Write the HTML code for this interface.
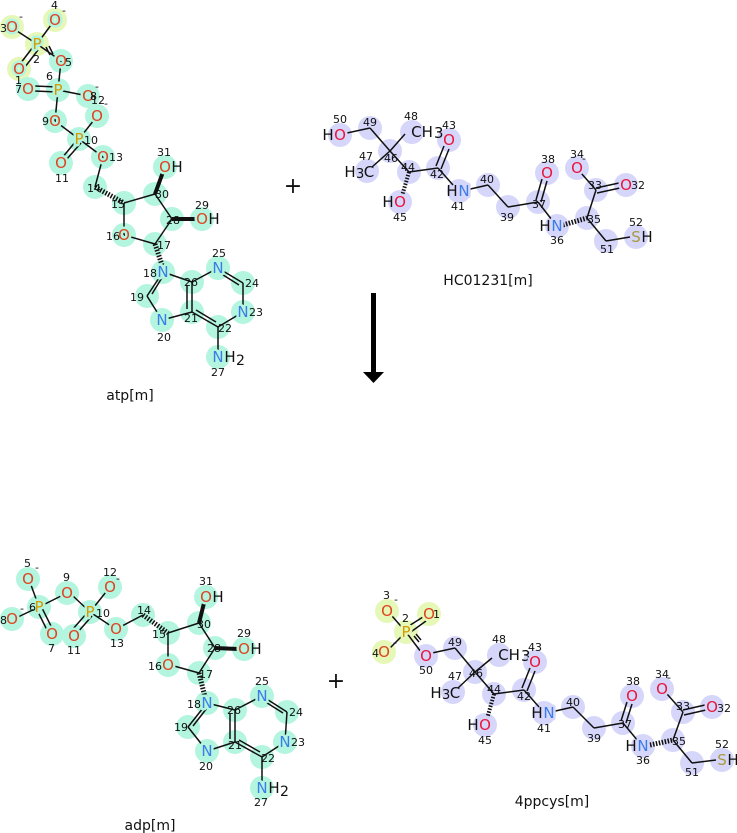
<!DOCTYPE html>
<html><head><meta charset="utf-8">
<style>
html,body{margin:0;padding:0;background:#fff;}
svg{display:block;}
text{font-family:"DejaVu Sans","Liberation Sans",sans-serif;}
.n{font-size:11px;fill:#111;}
.a{font-size:15px;text-anchor:middle;dominant-baseline:central;}
.O1{fill:#dd4422}.O2{fill:#e8163c}.N{fill:#3a7de8}.P{fill:#d49a00}.S{fill:#a89a40}.C{fill:#111}
line{stroke:#111;stroke-width:1.5}
.hc circle{fill:#d6d6fa}
.ac circle{fill:#b3f5df}
.yc circle{fill:#e6f8b8}
g.ta text{stroke:#b3f5df;stroke-width:5;paint-order:stroke;stroke-linejoin:round}
g.th text{stroke:#d6d6fa;stroke-width:5;paint-order:stroke;stroke-linejoin:round}
g.ta text.C, g.th text.C{stroke:none}
</style></head><body>
<svg width="737" height="833" viewBox="0 0 737 833" xmlns="http://www.w3.org/2000/svg">
<!-- ===================== ATP ===================== -->
<g class="yc">
<circle cx="12" cy="27" r="12"/><circle cx="55" cy="20" r="12"/><circle cx="37" cy="44" r="12"/><circle cx="19" cy="69" r="12"/>
</g>
<g class="ac">
<circle cx="61" cy="61" r="12"/><circle cx="58" cy="90" r="12"/><circle cx="28" cy="89" r="12"/><circle cx="88" cy="96" r="12"/>
<circle cx="97" cy="116" r="12"/><circle cx="55" cy="121" r="12"/><circle cx="79" cy="139" r="12"/><circle cx="103" cy="157" r="12"/>
<circle cx="61" cy="163" r="12"/><circle cx="95" cy="187" r="12"/><circle cx="124" cy="203" r="12"/><circle cx="155" cy="194" r="12"/>
<circle cx="165" cy="167" r="12"/><circle cx="172" cy="219" r="12"/><circle cx="202" cy="219" r="12"/><circle cx="124" cy="235" r="12"/>
<circle cx="155" cy="244" r="12"/><circle cx="163" cy="272" r="12"/><circle cx="192" cy="282" r="12"/><circle cx="218" cy="268" r="12"/>
<circle cx="243" cy="283" r="12"/><circle cx="243" cy="312" r="12"/><circle cx="218" cy="327" r="12"/><circle cx="192" cy="312" r="12"/>
<circle cx="162" cy="320" r="12"/><circle cx="147" cy="296" r="12"/><circle cx="218" cy="357" r="12"/>
</g>
<g>
<line x1="37" y1="44" x2="17" y2="31"/><line x1="37" y1="44" x2="51" y2="25"/>
<line x1="33" y1="47" x2="20" y2="64"/><line x1="38" y1="50" x2="25" y2="67"/>
<line x1="37" y1="44" x2="57" y2="58"/><line x1="46" y1="47" x2="50" y2="55"/><line x1="49" y1="46" x2="53" y2="54"/>
<line x1="61" y1="61" x2="58" y2="90"/>
<line x1="58" y1="87" x2="34" y2="86"/><line x1="58" y1="92" x2="34" y2="91"/>
<line x1="58" y1="90" x2="83" y2="95"/><line x1="58" y1="90" x2="55" y2="121"/>
<line x1="55" y1="121" x2="79" y2="139"/><line x1="79" y1="139" x2="94" y2="120"/>
<line x1="76" y1="141" x2="62" y2="158"/><line x1="81" y1="143" x2="66" y2="160"/>
<line x1="79" y1="139" x2="103" y2="157"/><line x1="103" y1="157" x2="95" y2="187"/>
<line x1="95" y1="187" x2="124" y2="203" style="stroke-dasharray:1.5 1.5;stroke-width:5"/>
<line x1="124" y1="203" x2="155" y2="194"/><line x1="124" y1="203" x2="124" y2="235"/>
<line x1="155" y1="194" x2="163" y2="172" style="stroke-width:4"/>
<line x1="155" y1="194" x2="172" y2="219"/><line x1="172" y1="219" x2="196" y2="219" style="stroke-width:4"/>
<line x1="172" y1="219" x2="155" y2="244"/><line x1="155" y1="244" x2="124" y2="235"/>
<line x1="155" y1="244" x2="163" y2="268" style="stroke-dasharray:1.5 1.5;stroke-width:5"/>
<line x1="163" y1="272" x2="147" y2="296"/><line x1="163" y1="276" x2="152" y2="294"/>
<line x1="147" y1="296" x2="162" y2="320"/>
<line x1="162" y1="320" x2="192" y2="312"/>
<line x1="192" y1="312" x2="192" y2="282"/><line x1="187" y1="309" x2="187" y2="285"/>
<line x1="192" y1="282" x2="163" y2="272"/><line x1="192" y1="282" x2="218" y2="268"/>
<line x1="218" y1="268" x2="243" y2="283"/><line x1="220" y1="273" x2="239" y2="285"/>
<line x1="243" y1="283" x2="243" y2="312"/><line x1="243" y1="312" x2="218" y2="327"/>
<line x1="218" y1="327" x2="192" y2="312"/><line x1="216" y1="322" x2="196" y2="310"/>
<line x1="218" y1="327" x2="218" y2="350"/>
</g>
<g class="ta">
<text class="a O1" x="12" y="27">O</text><text class="a O1" x="55" y="20">O</text><text class="a P" x="37" y="44">P</text><text class="a O1" x="19" y="69">O</text>
<text class="a O1" x="61" y="61">O</text><text class="a P" x="58" y="90">P</text><text class="a O1" x="28" y="89">O</text><text class="a O1" x="88" y="96">O</text>
<text class="a O1" x="97" y="116">O</text><text class="a O1" x="55" y="121">O</text><text class="a P" x="79" y="139">P</text><text class="a O1" x="103" y="157">O</text>
<text class="a O1" x="61" y="163">O</text><text class="a O1" x="165" y="167">O</text><text class="a C" x="177" y="167">H</text>
<text class="a O1" x="202" y="219">O</text><text class="a C" x="214" y="219">H</text><text class="a O1" x="124" y="235">O</text>
<text class="a N" x="163" y="272">N</text><text class="a N" x="218" y="268">N</text><text class="a N" x="243" y="312">N</text><text class="a N" x="162" y="320">N</text>
<text class="a N" x="218" y="357">N</text><text class="a C" x="230" y="357">H</text><text class="C" x="236" y="365" style="font-size:14px">2</text>
</g>
<g class="n">
<text x="0" y="32">3</text><text x="19" y="20">-</text><text x="51" y="9">4</text><text x="62" y="14">-</text><text x="33" y="63">2</text><text x="15" y="84">1</text><text x="15" y="93">7</text>
<text x="65" y="66">5</text><text x="46" y="80">6</text><text x="90" y="100">8</text><text x="95" y="90">-</text><text x="91" y="104">12</text><text x="104" y="107">-</text>
<text x="42" y="125">9</text><text x="84" y="144">10</text><text x="109" y="161">13</text><text x="55" y="182">11</text>
<text x="87" y="192">14</text><text x="111" y="208">15</text><text x="155" y="198">30</text><text x="157" y="156">31</text>
<text x="166" y="224">28</text><text x="195" y="209">29</text><text x="106" y="240">16</text><text x="157" y="249">17</text>
<text x="143" y="277">18</text><text x="184" y="286">26</text><text x="212" y="257">25</text><text x="245" y="287">24</text><text x="249" y="316">23</text>
<text x="218" y="332">22</text><text x="184" y="322">21</text><text x="157" y="341">20</text><text x="130" y="301">19</text><text x="211" y="376">27</text>
</g>
<text x="130" y="400" style="font-size:14px;text-anchor:middle;fill:#111">atp[m]</text>

<text x="293" y="193" style="font-size:22px;text-anchor:middle;fill:#111">+</text>

<!-- ===================== HC01231 ===================== -->
<g class="hc">
<circle cx="340" cy="135" r="12"/><circle cx="370" cy="128" r="12"/><circle cx="412" cy="132" r="12"/><circle cx="449" cy="140" r="12"/>
<circle cx="390" cy="151" r="12"/><circle cx="367" cy="171" r="12"/><circle cx="409" cy="172" r="12"/><circle cx="438" cy="168" r="12"/>
<circle cx="459" cy="191" r="12"/><circle cx="400" cy="202" r="12"/><circle cx="488" cy="185" r="12"/><circle cx="508" cy="207" r="12"/>
<circle cx="538" cy="202" r="12"/><circle cx="547" cy="173" r="12"/><circle cx="557" cy="226" r="12"/><circle cx="587" cy="218" r="12"/>
<circle cx="596" cy="190" r="12"/><circle cx="577" cy="168" r="12"/><circle cx="626" cy="185" r="12"/><circle cx="606" cy="241" r="12"/><circle cx="636" cy="237" r="12"/>
</g>
<g>
<line x1="347" y1="133" x2="370" y2="128"/><line x1="370" y1="128" x2="390" y2="151"/><line x1="390" y1="151" x2="405" y2="134"/>
<line x1="390" y1="151" x2="372" y2="167"/><line x1="390" y1="151" x2="409" y2="172"/><line x1="409" y1="172" x2="438" y2="168"/>
<line x1="409" y1="172" x2="402" y2="196" style="stroke-dasharray:1.5 1.5;stroke-width:4"/>
<line x1="436" y1="166" x2="444" y2="146"/><line x1="441" y1="169" x2="449" y2="149"/>
<line x1="438" y1="168" x2="453" y2="185"/><line x1="466" y1="190" x2="488" y2="185"/><line x1="488" y1="185" x2="508" y2="207"/>
<line x1="508" y1="207" x2="538" y2="202"/><line x1="536" y1="200" x2="542" y2="179"/><line x1="541" y1="202" x2="547" y2="181"/>
<line x1="538" y1="202" x2="552" y2="220"/><line x1="563" y1="225" x2="587" y2="218" style="stroke-dasharray:1.5 1.5;stroke-width:5"/>
<line x1="587" y1="218" x2="596" y2="190"/><line x1="596" y1="190" x2="581" y2="173"/>
<line x1="596" y1="188" x2="619" y2="183"/><line x1="597" y1="193" x2="620" y2="188"/>
<line x1="587" y1="218" x2="606" y2="241"/><line x1="606" y1="241" x2="630" y2="237"/>
</g>
<g class="th">
<text class="a C" x="328" y="135">H</text><text class="a O2" x="340" y="135">O</text>
<text class="a C" x="422" y="132">CH</text><text class="C" x="434" y="138" style="font-size:15px">3</text>
<text class="a O2" x="449" y="140">O</text>
<text class="a C" x="350" y="172">H</text><text class="C" x="356" y="178" style="font-size:13px">3</text><text class="a C" x="369" y="172">C</text>
<text class="a C" x="452" y="191">H</text><text class="a N" x="464" y="191">N</text>
<text class="a C" x="388" y="202">H</text><text class="a O2" x="400" y="202">O</text>
<text class="a O2" x="547" y="173">O</text><text class="a C" x="545" y="226">H</text><text class="a N" x="557" y="226">N</text>
<text class="a O2" x="577" y="168">O</text><text class="a O2" x="626" y="185">O</text>
<text class="a S" x="636" y="237">S</text><text class="a C" x="647" y="237">H</text>
</g>
<g class="n">
<text x="333" y="123">50</text><text x="363" y="126">49</text><text x="404" y="120">48</text><text x="442" y="129">43</text>
<text x="384" y="162">46</text><text x="359" y="160">47</text><text x="401" y="171">44</text><text x="430" y="178">42</text>
<text x="451" y="210">41</text><text x="393" y="221">45</text><text x="480" y="183">40</text><text x="500" y="221">39</text>
<text x="532" y="208">37</text><text x="541" y="163">38</text><text x="550" y="244">36</text><text x="587" y="223">35</text>
<text x="588" y="189">33</text><text x="570" y="158">34</text><text x="582" y="162">-</text><text x="631" y="189">32</text>
<text x="600" y="253">51</text><text x="629" y="226">52</text>
</g>
<text x="488" y="285" style="font-size:14px;text-anchor:middle;fill:#111">HC01231[m]</text>

<!-- ===================== Arrow ===================== -->
<rect x="371" y="293" width="5" height="80" fill="#000"/>
<polygon points="363,372 384,372 373.5,383" fill="#000"/>

<!-- ===================== ADP ===================== -->
<g class="ac">
<circle cx="28" cy="579" r="12"/><circle cx="39" cy="607" r="12"/><circle cx="12" cy="619" r="12"/><circle cx="52" cy="634" r="12"/>
<circle cx="67" cy="593" r="12"/><circle cx="90" cy="612" r="12"/><circle cx="110" cy="587" r="12"/><circle cx="74" cy="636" r="12"/>
<circle cx="116" cy="629" r="12"/><circle cx="143" cy="615" r="12"/><circle cx="168" cy="633" r="12"/><circle cx="199" cy="623" r="12"/>
<circle cx="206" cy="597" r="12"/><circle cx="215" cy="648" r="12"/><circle cx="244" cy="649" r="12"/><circle cx="168" cy="665" r="12"/>
<circle cx="199" cy="673" r="12"/><circle cx="207" cy="703" r="12"/><circle cx="235" cy="710" r="12"/><circle cx="262" cy="696" r="12"/>
<circle cx="287" cy="712" r="12"/><circle cx="285" cy="742" r="12"/><circle cx="262" cy="757" r="12"/><circle cx="235" cy="742" r="12"/>
<circle cx="207" cy="751" r="12"/><circle cx="188" cy="727" r="12"/><circle cx="262" cy="788" r="12"/>
</g>
<g>
<line x1="39" y1="607" x2="31" y2="585"/><line x1="39" y1="607" x2="18" y2="617"/>
<line x1="37" y1="610" x2="47" y2="630"/><line x1="42" y1="608" x2="52" y2="628"/>
<line x1="39" y1="607" x2="61" y2="596"/><line x1="73" y1="596" x2="90" y2="612"/><line x1="90" y1="612" x2="106" y2="592"/>
<line x1="87" y1="613" x2="72" y2="630"/><line x1="92" y1="616" x2="77" y2="633"/>
<line x1="90" y1="612" x2="111" y2="626"/><line x1="122" y1="626" x2="143" y2="615"/>
<line x1="143" y1="615" x2="168" y2="633" style="stroke-dasharray:1.5 1.5;stroke-width:5"/>
<line x1="168" y1="633" x2="199" y2="623"/><line x1="168" y1="633" x2="168" y2="659"/>
<line x1="199" y1="623" x2="204" y2="603" style="stroke-width:4"/>
<line x1="199" y1="623" x2="215" y2="648"/><line x1="215" y1="648" x2="238" y2="649" style="stroke-width:4"/>
<line x1="215" y1="648" x2="199" y2="673"/><line x1="199" y1="673" x2="174" y2="666"/>
<line x1="199" y1="673" x2="205" y2="697" style="stroke-dasharray:1.5 1.5;stroke-width:5"/>
<line x1="207" y1="703" x2="188" y2="727"/><line x1="207" y1="708" x2="193" y2="726"/>
<line x1="188" y1="727" x2="207" y2="751"/><line x1="207" y1="751" x2="235" y2="742"/>
<line x1="235" y1="742" x2="235" y2="710"/><line x1="230" y1="739" x2="230" y2="713"/>
<line x1="235" y1="710" x2="207" y2="703"/><line x1="235" y1="710" x2="262" y2="696"/>
<line x1="262" y1="696" x2="287" y2="712"/><line x1="264" y1="701" x2="283" y2="713"/>
<line x1="287" y1="712" x2="285" y2="742"/><line x1="285" y1="742" x2="262" y2="757"/>
<line x1="262" y1="757" x2="235" y2="742"/><line x1="260" y1="752" x2="239" y2="740"/>
<line x1="262" y1="757" x2="262" y2="781"/>
</g>
<g class="ta">
<text class="a O1" x="28" y="579">O</text><text class="a P" x="39" y="607">P</text><text class="a O1" x="12" y="619">O</text><text class="a O1" x="52" y="634">O</text>
<text class="a O1" x="67" y="593">O</text><text class="a P" x="90" y="612">P</text><text class="a O1" x="110" y="587">O</text><text class="a O1" x="74" y="636">O</text>
<text class="a O1" x="116" y="629">O</text><text class="a O1" x="206" y="597">O</text><text class="a C" x="218" y="597">H</text>
<text class="a O1" x="244" y="649">O</text><text class="a C" x="256" y="649">H</text><text class="a O1" x="168" y="665">O</text>
<text class="a N" x="207" y="703">N</text><text class="a N" x="262" y="696">N</text><text class="a N" x="285" y="742">N</text><text class="a N" x="207" y="751">N</text>
<text class="a N" x="262" y="788">N</text><text class="a C" x="274" y="788">H</text><text class="C" x="280" y="796" style="font-size:14px">2</text>
</g>
<g class="n">
<text x="24" y="567">5</text><text x="35" y="571">-</text><text x="29" y="611">6</text><text x="0" y="624">8</text><text x="20" y="612">-</text><text x="48" y="652">7</text>
<text x="63" y="581">9</text><text x="96" y="617">10</text><text x="103" y="576">12</text><text x="116" y="582">-</text><text x="67" y="654">11</text>
<text x="110" y="647">13</text><text x="137" y="614">14</text><text x="152" y="638">15</text><text x="197" y="628">30</text><text x="199" y="585">31</text>
<text x="207" y="652">28</text><text x="237" y="637">29</text><text x="148" y="670">16</text><text x="199" y="678">17</text>
<text x="187" y="708">18</text><text x="227" y="714">26</text><text x="255" y="685">25</text><text x="289" y="716">24</text><text x="291" y="746">23</text>
<text x="261" y="762">22</text><text x="228" y="749">21</text><text x="199" y="770">20</text><text x="174" y="731">19</text><text x="254" y="806">27</text>
</g>
<text x="150" y="830" style="font-size:14px;text-anchor:middle;fill:#111">adp[m]</text>

<text x="336" y="688" style="font-size:22px;text-anchor:middle;fill:#111">+</text>

<!-- ===================== 4ppcys ===================== -->
<g class="yc">
<circle cx="387" cy="611" r="12"/><circle cx="429" cy="614" r="12"/><circle cx="406" cy="632" r="12"/><circle cx="384" cy="652" r="12"/>
</g>
<g class="hc">
<circle cx="426" cy="656" r="12"/><circle cx="455" cy="648" r="12"/><circle cx="499" cy="655" r="12"/><circle cx="535" cy="662" r="12"/>
<circle cx="475" cy="672" r="12"/><circle cx="453" cy="692" r="12"/><circle cx="494" cy="694" r="12"/><circle cx="524" cy="690" r="12"/>
<circle cx="544" cy="713" r="12"/><circle cx="485" cy="725" r="12"/><circle cx="573" cy="707" r="12"/><circle cx="594" cy="728" r="12"/>
<circle cx="623" cy="723" r="12"/><circle cx="632" cy="696" r="12"/><circle cx="643" cy="746" r="12"/><circle cx="673" cy="740" r="12"/>
<circle cx="683" cy="712" r="12"/><circle cx="662" cy="689" r="12"/><circle cx="712" cy="707" r="12"/><circle cx="692" cy="763" r="12"/><circle cx="722" cy="760" r="12"/>
</g>
<g>
<line x1="406" y1="632" x2="392" y2="616"/><line x1="404" y1="629" x2="423" y2="617"/><line x1="408" y1="634" x2="426" y2="621"/>
<line x1="406" y1="632" x2="390" y2="648"/><line x1="406" y1="632" x2="421" y2="652"/>
<line x1="414" y1="636" x2="419" y2="642"/><line x1="416" y1="634" x2="421" y2="640"/>
<line x1="432" y1="653" x2="455" y2="648"/><line x1="455" y1="648" x2="475" y2="672"/><line x1="475" y1="672" x2="492" y2="658"/>
<line x1="475" y1="672" x2="458" y2="688"/><line x1="475" y1="672" x2="494" y2="694"/><line x1="494" y1="694" x2="524" y2="690"/>
<line x1="494" y1="694" x2="487" y2="719" style="stroke-dasharray:1.5 1.5;stroke-width:4"/>
<line x1="522" y1="688" x2="530" y2="668"/><line x1="527" y1="691" x2="535" y2="671"/>
<line x1="524" y1="690" x2="539" y2="707"/><line x1="551" y1="712" x2="573" y2="707"/><line x1="573" y1="707" x2="594" y2="728"/>
<line x1="594" y1="728" x2="623" y2="723"/><line x1="621" y1="721" x2="627" y2="702"/><line x1="626" y1="723" x2="632" y2="704"/>
<line x1="623" y1="723" x2="638" y2="741"/><line x1="650" y1="745" x2="673" y2="740" style="stroke-dasharray:1.5 1.5;stroke-width:5"/>
<line x1="673" y1="740" x2="683" y2="712"/><line x1="683" y1="712" x2="667" y2="694"/>
<line x1="683" y1="710" x2="705" y2="705"/><line x1="684" y1="715" x2="706" y2="710"/>
<line x1="673" y1="740" x2="692" y2="763"/><line x1="692" y1="763" x2="716" y2="760"/>
</g>
<g class="th">
<text class="a O1" x="387" y="611" style="stroke:#e6f8b8">O</text><text class="a O1" x="429" y="614" style="stroke:#e6f8b8">O</text><text class="a P" x="406" y="632" style="stroke:#e6f8b8">P</text><text class="a O1" x="384" y="652" style="stroke:#e6f8b8">O</text>
<text class="a O2" x="426" y="656">O</text>
<text class="a C" x="509" y="655">CH</text><text class="C" x="521" y="661" style="font-size:15px">3</text>
<text class="a O2" x="535" y="662">O</text>
<text class="a C" x="436" y="693">H</text><text class="C" x="442" y="699" style="font-size:13px">3</text><text class="a C" x="455" y="693">C</text>
<text class="a C" x="537" y="713">H</text><text class="a N" x="549" y="713">N</text>
<text class="a C" x="473" y="725">H</text><text class="a O2" x="485" y="725">O</text>
<text class="a O2" x="632" y="696">O</text><text class="a C" x="631" y="746">H</text><text class="a N" x="643" y="746">N</text>
<text class="a O2" x="662" y="689">O</text><text class="a O2" x="712" y="707">O</text>
<text class="a S" x="722" y="760">S</text><text class="a C" x="733" y="760">H</text>
</g>
<g class="n">
<text x="383" y="599">3</text><text x="394" y="603">-</text><text x="433" y="618">1</text><text x="402" y="622">2</text><text x="372" y="657">4</text><text x="393" y="646">-</text>
<text x="419" y="674">50</text><text x="448" y="646">49</text><text x="492" y="643">48</text><text x="528" y="651">43</text>
<text x="469" y="677">46</text><text x="448" y="680">47</text><text x="487" y="693">44</text><text x="517" y="700">42</text>
<text x="537" y="732">41</text><text x="478" y="744">45</text><text x="566" y="706">40</text><text x="587" y="742">39</text>
<text x="618" y="728">37</text><text x="626" y="685">38</text><text x="636" y="764">36</text><text x="672" y="745">35</text>
<text x="676" y="710">33</text><text x="655" y="678">34</text><text x="667" y="681">-</text><text x="717" y="712">32</text>
<text x="685" y="776">51</text><text x="715" y="748">52</text>
</g>
<text x="552" y="806" style="font-size:14px;text-anchor:middle;fill:#111">4ppcys[m]</text>
</svg>
</body></html>
